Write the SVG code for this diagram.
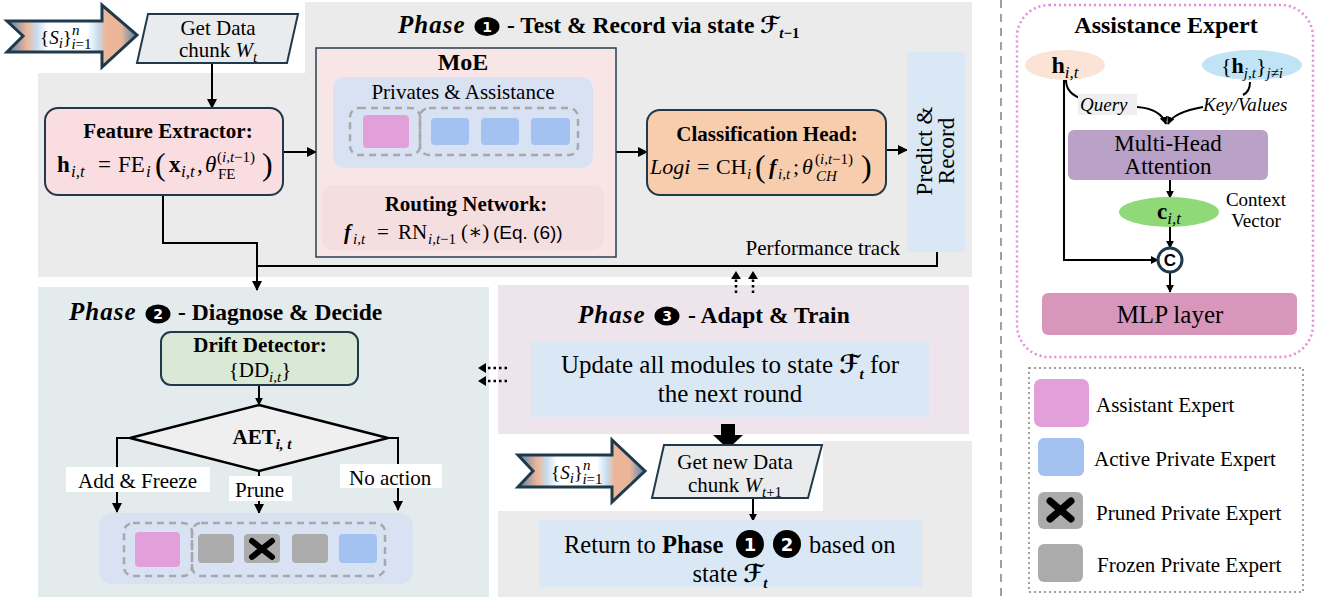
<svg xmlns="http://www.w3.org/2000/svg" width="1318" height="599" viewBox="0 0 1318 599">
<defs>
<style>
text{font-family:"Liberation Serif","DejaVu Serif",serif;fill:#000;font-size:21px}
.b{font-weight:bold}
.i{font-style:italic}
.m{text-anchor:middle}
.s{font-size:15px}
.s2{font-size:17px}
.ph{font-weight:bold;font-style:italic;font-size:25px;letter-spacing:1px}
.pt{font-weight:bold;font-size:23.5px}
.sc{font-family:"DejaVu Serif","DejaVu Sans",serif;font-weight:bold;font-style:italic}
.node{stroke:#1E3A4C;stroke-width:2}
.ln{fill:none;stroke:#000;stroke-width:2}
.dotl{fill:none;stroke:#000;stroke-width:2.5;stroke-dasharray:2.5 3}
.dash{fill:none;stroke:#A8A8A8;stroke-width:2.5;stroke-dasharray:7 5}
.pk{fill:#E39FD9}
.bl{fill:#A3C1F1}
.gr{fill:#ABABAB}
.num{fill:#fff;font-family:"DejaVu Sans","Liberation Sans",sans-serif;font-weight:bold;font-size:14px;text-anchor:middle}
</style>
<marker id="ah" viewBox="0 0 10 10" refX="9" refY="5" markerWidth="10" markerHeight="10" markerUnits="userSpaceOnUse" orient="auto"><path d="M0,0L10,5L0,10z" fill="#000"/></marker>
<marker id="as" viewBox="0 0 10 10" refX="9" refY="5" markerWidth="8" markerHeight="8" markerUnits="userSpaceOnUse" orient="auto"><path d="M0,0L10,5L0,10z" fill="#000"/></marker>
<linearGradient id="src" x1="0" x2="1" y1="0" y2="0">
<stop offset="0" stop-color="#4F82AE"/>
<stop offset="0.15" stop-color="#EDB597"/>
<stop offset="0.23" stop-color="#C7DDF0"/>
<stop offset="0.31" stop-color="#FFFFFF"/>
<stop offset="0.62" stop-color="#FFFFFF"/>
<stop offset="0.7" stop-color="#C7DDF0"/>
<stop offset="0.76" stop-color="#EDB597"/>
<stop offset="0.88" stop-color="#E9B699"/>
<stop offset="1" stop-color="#4F82AE"/>
</linearGradient>
</defs>

<g id="panels">
<path d="M38,73H305V2H972V277H38Z" fill="#EBEBEB"/>
<rect x="38" y="287" width="451" height="310" fill="#E3EBED"/>
<rect x="498" y="285" width="471" height="149" fill="#EDE4EC"/>
<path d="M498,511H823V441H972V597H498Z" fill="#EBEBEB"/>
<line x1="1001" y1="0" x2="1001" y2="599" stroke="#A0A0A0" stroke-width="2" stroke-dasharray="8 6"/>
</g>

<g id="phase1-title">
<text x="398" y="33" class="ph">Phase</text>
<ellipse cx="487" cy="26.5" rx="12.5" ry="9.5"/>
<text x="487" y="31.5" class="num">1</text>
<text x="507" y="33" class="pt">- Test &amp; Record via state <tspan class="sc">ℱ</tspan><tspan class="s i" baseline-shift="-5">t</tspan><tspan class="s" baseline-shift="-5">−1</tspan></text>
</g>
<g id="phase2-title">
<text x="69" y="320" class="ph">Phase</text>
<ellipse cx="158" cy="314" rx="12.5" ry="9.5"/>
<text x="158" y="319" class="num">2</text>
<text x="178" y="320" class="pt">- Diagnose &amp; Decide</text>
</g>
<g id="phase3-title">
<text x="578" y="323" class="ph">Phase</text>
<ellipse cx="667" cy="316" rx="12.5" ry="9.5"/>
<text x="667" y="321" class="num">3</text>
<text x="688" y="323" class="pt">- Adapt &amp; Train</text>
</g>

<g id="connectors">
<path class="ln" d="M212,63V108" marker-end="url(#ah)"/>
<path class="ln" d="M283,152H316" marker-end="url(#ah)"/>
<path class="ln" d="M616,152H647" marker-end="url(#ah)"/>
<path class="ln" d="M886,150H907" marker-end="url(#ah)"/>
<path class="ln" d="M163,195V243H257V290" marker-end="url(#ah)"/>
<path class="ln" d="M937,252V266H257"/>
<path class="dotl" d="M736,293V274"/>
<path class="dotl" d="M753,293V274"/>
<path d="M731,279L736,271L741,279z M748,279L753,271L758,279z"/>
<path class="dotl" d="M507,368H484"/>
<path class="dotl" d="M507,381H484"/>
<path d="M486,363L478,368L486,373z M486,376L478,381L486,386z"/>
<path class="ln" d="M259,385V405" marker-end="url(#as)"/>
<path class="ln" d="M130,438H117V512" marker-end="url(#ah)"/>
<path class="ln" d="M259,471V513" marker-end="url(#ah)"/>
<path class="ln" d="M388,438H398V510" marker-end="url(#ah)"/>
<polygon points="721,424 735,424 735,435 743,435 728,449 713,435 721,435"/>
<path class="ln" d="M753,498V521" marker-end="url(#as)"/>
<path class="ln" d="M386,148C386,164 440,166 466,180"/>
<path class="ln" d="M450,145C450,166 462,168 466,180"/>
<path class="ln" d="M501,145C501,166 472,168 466,180"/>
<path class="ln" d="M551,145C551,170 482,166 466,180"/>
<polygon points="458,180 466,175 475,180 466,186"/>
<path class="ln" d="M1066,80C1066,90 1072,95 1080,98"/>
<path class="ln" d="M1137,107C1152,108 1162,113 1166,124" marker-end="url(#as)"/>
<path class="ln" d="M1250,82C1250,90 1247,93 1243,95"/>
<path class="ln" d="M1203,107C1186,110 1172,115 1168,124" marker-end="url(#as)"/>
<path class="ln" d="M1170,180V198" marker-end="url(#as)"/>
<path class="ln" d="M1170,227V248" marker-end="url(#as)"/>
<path class="ln" d="M1064,80V260H1158" marker-end="url(#as)"/>
<path class="ln" d="M1170,272V292" marker-end="url(#as)"/>
</g>

<g id="sources1">
<polygon points="7,21 102,21 102,5 137,35 102,67 102,52 7,52 23,36" fill="url(#src)" stroke="#1E3A4C" stroke-width="3"/>
<text x="40" y="44" style="font-size:19px">{<tspan class="i">S</tspan><tspan class="s i" baseline-shift="-4">i</tspan>}<tspan class="s i" baseline-shift="9">n</tspan><tspan class="s i" baseline-shift="-5" dx="-8">i</tspan><tspan class="s" baseline-shift="-5">=1</tspan></text>
</g>
<g id="getdata1">
<polygon points="148,14 298,14 287,63 137,63" fill="#E9EBEC" class="node"/>
<text x="218" y="35" class="m">Get Data</text>
<text x="218" y="57" class="m">chunk <tspan class="i">W</tspan><tspan class="s i" baseline-shift="-5">t</tspan></text>
</g>

<g id="feature-extractor">
<rect x="45" y="108" width="238" height="87" rx="13" fill="#F9DDE1" class="node"/>
<text x="168" y="138" class="m b">Feature Extractor:</text>
<text y="172" style="font-size:23px"><tspan x="57" class="b">h</tspan><tspan x="71" class="s2 i" baseline-shift="-5">i,t</tspan><tspan x="98">=</tspan><tspan x="118">FE</tspan><tspan x="146" class="s2 i" baseline-shift="-5">i</tspan><tspan x="155" style="font-size:32px" baseline-shift="-3">(</tspan><tspan x="169" class="b">x</tspan><tspan x="181" class="s2 i" baseline-shift="-5">i,t</tspan><tspan x="197">,</tspan><tspan x="205" class="i">θ</tspan><tspan x="217" class="s" baseline-shift="10">(</tspan><tspan class="s i" baseline-shift="10">i,t</tspan><tspan class="s" baseline-shift="10">−1)</tspan><tspan x="218" class="s" baseline-shift="-7">FE</tspan><tspan x="262" style="font-size:32px" baseline-shift="-3">)</tspan></text>
</g>

<g id="moe">
<rect x="316" y="48" width="300" height="209" fill="#F8E6E6" stroke="#2A3F50" stroke-width="1.5"/>
<text x="463" y="70" class="m b" style="font-size:24px">MoE</text>
<rect x="333" y="77" width="260" height="91" rx="12" fill="#D8E2F3"/>
<text x="463" y="99" class="m">Privates &amp; Assistance</text>
<rect x="350" y="108" width="70" height="47" rx="9" class="dash"/>
<rect x="420" y="108" width="158" height="47" rx="9" class="dash"/>
<rect x="363" y="115" width="46" height="33" rx="4" class="pk"/>
<rect x="431" y="118" width="38" height="27" rx="4" class="bl"/>
<rect x="481" y="118" width="38" height="27" rx="4" class="bl"/>
<rect x="531" y="118" width="39" height="27" rx="4" class="bl"/>
<rect x="322" y="185" width="282" height="65" rx="10" fill="#F5DEE0"/>
<text x="466" y="211" class="m b">Routing Network:</text>
<text y="239" style="font-size:21px"><tspan x="344" class="b i">f</tspan><tspan x="353" class="s i" baseline-shift="-5">i,t</tspan><tspan x="377">=</tspan><tspan x="398">RN</tspan><tspan x="428" class="s i" baseline-shift="-5">i,t</tspan><tspan class="s" baseline-shift="-5">−1</tspan><tspan x="461">(∗)</tspan><tspan x="493" style="font-family:'Liberation Sans',sans-serif;font-size:19px">(Eq. (6))</tspan></text>
</g>

<g id="classification-head">
<rect x="647" y="110" width="239" height="85" rx="13" fill="#F8CDAE" class="node"/>
<text x="767" y="141" class="m b">Classification Head:</text>
<text y="174" style="font-size:22px"><tspan x="650" class="i">Logi</tspan><tspan x="697">=</tspan><tspan x="716">CH</tspan><tspan x="747" class="s i" baseline-shift="-5">i</tspan><tspan x="755" style="font-size:32px" baseline-shift="-3">(</tspan><tspan x="769" class="b i">f</tspan><tspan x="778" class="s i" baseline-shift="-5">i,t</tspan><tspan x="793">;</tspan><tspan x="802" class="i">θ</tspan><tspan x="815" class="s" baseline-shift="10">(</tspan><tspan class="s i" baseline-shift="10">i,t</tspan><tspan class="s" baseline-shift="10">−1)</tspan><tspan x="816" class="s i" baseline-shift="-7">CH</tspan><tspan x="861" style="font-size:32px" baseline-shift="-3">)</tspan></text>
</g>

<g id="predict-record">
<rect x="907" y="52" width="58" height="200" fill="#DAE7F5"/>
<text transform="translate(932,151) rotate(-90)" class="m" style="font-size:23px">Predict &amp;</text>
<text transform="translate(954,151) rotate(-90)" class="m" style="font-size:23px">Record</text>
</g>
<text id="perf-label" x="900" y="255" style="text-anchor:end">Performance track</text>

<g id="drift-detector">
<rect x="161" y="332" width="197" height="53" rx="10" fill="#DAE8D6" class="node"/>
<text x="260" y="352" class="m b">Drift Detector:</text>
<text x="260" y="377" class="m">{DD<tspan class="s i" baseline-shift="-5">i,t</tspan>}</text>
</g>

<g id="aet">
<polygon points="259,405 388,438 259,471 130,438" fill="#EFEFEF" stroke="#000" stroke-width="2.5"/>
<text x="262" y="444" class="m b">AET<tspan class="s i" baseline-shift="-5">i, t</tspan></text>
</g>

<g id="branch-labels">
<rect x="66" y="467" width="144" height="25" fill="#fff"/>
<text x="78" y="488">Add &amp; Freeze</text>
<rect x="229" y="476" width="63" height="25" fill="#fff"/>
<text x="235" y="497">Prune</text>
<rect x="340" y="464" width="102" height="24" fill="#fff"/>
<text x="349" y="485">No action</text>
</g>

<g id="expert-pool">
<rect x="99" y="513" width="314" height="71" rx="13" fill="#D9E2F3"/>
<rect x="124" y="523" width="68" height="53" rx="9" class="dash"/>
<rect x="192" y="523" width="193" height="53" rx="9" class="dash"/>
<rect x="135" y="532" width="45" height="35" rx="4" class="pk"/>
<rect x="198" y="534" width="36" height="29" rx="4" class="gr"/>
<rect x="244" y="534" width="36" height="29" rx="4" class="gr"/>
<path d="M252,541L272,557M272,541L252,557" stroke="#000" stroke-width="6" stroke-linecap="round"/>
<rect x="292" y="534" width="36" height="29" rx="4" class="gr"/>
<rect x="339" y="534" width="38" height="29" rx="4" class="bl"/>
</g>

<g id="update">
<rect x="531" y="341" width="398" height="76" fill="#DAE7F5"/>
<text x="730" y="373" class="m" style="font-size:25px">Update all modules to state <tspan class="sc">ℱ</tspan><tspan class="s b i" baseline-shift="-6">t</tspan> for</text>
<text x="730" y="402" class="m" style="font-size:25px">the next round</text>
</g>

<g id="sources2">
<polygon points="518,455 612,455 612,440 645,471 612,502 612,487 518,487 533,471" fill="url(#src)" stroke="#1E3A4C" stroke-width="3"/>
<text x="551" y="479" style="font-size:19px">{<tspan class="i">S</tspan><tspan class="s i" baseline-shift="-4">i</tspan>}<tspan class="s i" baseline-shift="9">n</tspan><tspan class="s i" baseline-shift="-5" dx="-8">i</tspan><tspan class="s" baseline-shift="-5">=1</tspan></text>
</g>
<g id="getdata2">
<polygon points="664,445 822,445 808,498 652,498" fill="#E9EBEC" class="node"/>
<text x="735" y="469" class="m">Get new Data</text>
<text x="735" y="492" class="m">chunk <tspan class="i">W</tspan><tspan class="s i" baseline-shift="-5">t</tspan><tspan class="s" baseline-shift="-5">+1</tspan></text>
</g>

<g id="return">
<rect x="539" y="520" width="383" height="67" fill="#DAE7F5"/>
<text x="564" y="553" style="font-size:24.5px">Return to <tspan class="b">Phase</tspan></text>
<circle cx="750" cy="544" r="14"/>
<text x="750" y="551" class="num" style="font-size:18px">1</text>
<circle cx="787" cy="544" r="14"/>
<text x="787" y="551" class="num" style="font-size:18px">2</text>
<text x="809" y="553" style="font-size:24.5px">based on</text>
<text x="730" y="582" class="m" style="font-size:24.5px">state <tspan class="sc">ℱ</tspan><tspan class="s b i" baseline-shift="-6">t</tspan></text>
</g>

<g id="assistance-expert">
<rect x="1017" y="5" width="296" height="352" rx="32" fill="none" stroke="#E68BD9" stroke-width="2.5" stroke-dasharray="2 3"/>
<text x="1166" y="33" class="m b" style="font-size:24px">Assistance Expert</text>
<ellipse cx="1065" cy="65" rx="40" ry="15" fill="#FBE3D6"/>
<text x="1065" y="73" class="m" style="font-size:24px"><tspan class="b">h</tspan><tspan class="i" baseline-shift="-5" style="font-size:17px">i,t</tspan></text>
<ellipse cx="1252" cy="65" rx="50" ry="15" fill="#C0E4F5"/>
<text x="1252" y="73" class="m" style="font-size:22px">{<tspan class="b">h</tspan><tspan class="s i" baseline-shift="-5">j,t</tspan>}<tspan class="s i" baseline-shift="-5">j≠i</tspan></text>
<rect x="1078" y="94" width="59" height="21" fill="#EFEFEF"/>
<text x="1080" y="111" class="i" style="font-size:19px">Query</text>
<text x="1203" y="111" class="i" style="font-size:19px">Key/Values</text>
<rect x="1068" y="130" width="200" height="50" rx="6" fill="#B9A1C7"/>
<text x="1168" y="151" class="m" style="font-size:23px">Multi-Head</text>
<text x="1168" y="174" class="m" style="font-size:23px">Attention</text>
<ellipse cx="1169" cy="212" rx="50" ry="15" fill="#8FD978"/>
<text x="1169" y="219" class="m" style="font-size:23px"><tspan class="b">c</tspan><tspan class="i" baseline-shift="-5" style="font-size:17px">i,t</tspan></text>
<text x="1256" y="206" class="m" style="font-size:19px">Context</text>
<text x="1256" y="227" class="m" style="font-size:19px">Vector</text>
<circle cx="1170" cy="260" r="12" fill="#fff" stroke="#1E3A4C" stroke-width="3"/>
<text x="1170" y="266" class="m b" style="font-family:'Liberation Sans',sans-serif;font-size:17px">C</text>
<rect x="1042" y="293" width="255" height="42" rx="6" fill="#D896BA"/>
<text x="1170" y="323" class="m" style="font-size:25px">MLP layer</text>
</g>

<g id="legend">
<rect x="1029" y="368" width="274" height="224" fill="none" stroke="#A0A0A0" stroke-width="2" stroke-dasharray="2 3"/>
<rect x="1034" y="379" width="55" height="48" rx="7" class="pk"/>
<text x="1096" y="412">Assistant Expert</text>
<rect x="1038" y="438" width="46" height="38" rx="6" class="bl"/>
<text x="1094" y="466">Active Private Expert</text>
<rect x="1038" y="492" width="45" height="37" rx="6" class="gr"/>
<path d="M1050,501L1071,519M1071,501L1050,519" stroke="#000" stroke-width="7" stroke-linecap="round"/>
<text x="1096" y="520">Pruned Private Expert</text>
<rect x="1038" y="544" width="45" height="38" rx="6" class="gr"/>
<text x="1097" y="572">Frozen Private Expert</text>
</g>
</svg>
